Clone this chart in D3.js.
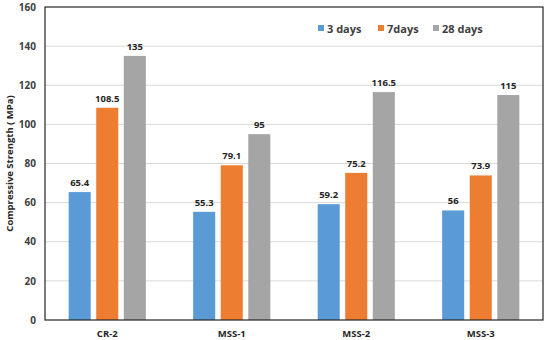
<!DOCTYPE html>
<html><head><meta charset="utf-8">
<script src="https://cdnjs.cloudflare.com/ajax/libs/d3/7.8.5/d3.min.js"></script>
<style>body{margin:0;background:#fff}svg{display:block}text{font-family:"Open Sans","Liberation Sans",sans-serif}</style>
</head><body><svg id="c" width="550" height="340"></svg>
<script>
const categories = ["CR-2","MSS-1","MSS-2","MSS-3"];
const seriesNames = ["3 days","7days","28 days"];
const days3 = [65.4,55.3,59.2,56];
const days7 = [108.5,79.1,75.2,73.9];
const days28 = [135,95,116.5,115];
const yTicks = [0,20,40,60,80,100,120,140,160];
const colors = ["#5b9bd5","#ed7d31","#a5a5a5"];
const series = [days3, days7, days28];

const svg = d3.select("#c");
const L=45, R=543, T=7, B=320;
const y = d3.scaleLinear().domain([0,160]).range([B,T]);
const x0 = d3.scaleBand().domain(categories).range([L,R]).paddingInner(0.38).paddingOuter(0.19);
const x1 = d3.scaleBand().domain(seriesNames).range([0,x0.bandwidth()]).paddingInner(0.2);

// gridlines
svg.append("g").selectAll("line").data(yTicks.filter(d=>d>0&&d<160)).join("line")
  .attr("x1",L).attr("x2",R).attr("y1",d=>y(d)).attr("y2",d=>y(d))
  .attr("stroke","#d9d9d9").attr("stroke-width",1);

// y axis labels
const ya = svg.append("g").attr("transform",`translate(${L},0)`)
  .call(d3.axisLeft(y).tickValues(yTicks).tickSize(0).tickPadding(9));
ya.select(".domain").remove();
ya.selectAll("text").attr("font-size","10px").attr("font-weight","bold").attr("fill","#404040")
  .attr("font-family","'Open Sans','Liberation Sans',sans-serif");

// bars
const g = svg.append("g");
categories.forEach((c,i)=>{
  seriesNames.forEach((s,j)=>{
    const v = series[j][i];
    g.append("rect").attr("x",x0(c)+x1(s)).attr("width",x1.bandwidth())
      .attr("y",y(v)).attr("height",y(0)-y(v)).attr("fill",colors[j]);
    g.append("text").attr("x",x0(c)+x1(s)+x1.bandwidth()/2).attr("y",y(v)-6)
      .attr("text-anchor","middle").attr("font-size","9.5px").attr("font-weight","bold")
      .attr("fill","#262626").text(v);
  });
});

// x axis
const xa = svg.append("g").attr("transform",`translate(0,${B})`)
  .call(d3.axisBottom(x0).tickSize(0).tickPadding(10));
xa.select(".domain").remove();
xa.selectAll("text").attr("font-size","9.5px").attr("font-weight","bold").attr("fill","#262626")
  .attr("font-family","'Open Sans','Liberation Sans',sans-serif");

// frame
svg.append("rect").attr("x",L).attr("y",T).attr("width",R-L).attr("height",B-T)
  .attr("fill","none").attr("stroke","#262626").attr("stroke-width",1.2);

// y title
svg.append("text").attr("transform",`translate(13,${(T+B)/2}) rotate(-90)`)
  .attr("text-anchor","middle").attr("font-size","9.5px").attr("font-weight","bold")
  .attr("fill","#262626").text("Compressive Strength ( MPa)");

// legend
const legX = [318,378,433];
seriesNames.forEach((s,j)=>{
  svg.append("rect").attr("x",legX[j]).attr("y",25).attr("width",6).attr("height",6).attr("fill",colors[j]);
  svg.append("text").attr("x",legX[j]+9).attr("y",32.5).attr("font-size","11px").attr("font-weight","bold")
    .attr("fill","#404040").text(s);
});
</script></body></html>
